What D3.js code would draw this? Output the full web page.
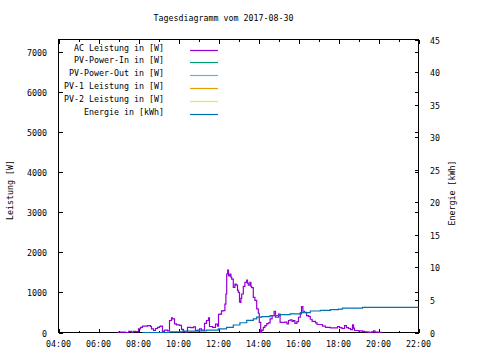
<!DOCTYPE html>
<html>
<head>
<meta charset="utf-8">
<script src="https://cdn.jsdelivr.net/npm/d3@7"></script>
<style>
  html, body { margin: 0; padding: 0; background: #fff; }
  svg { display: block; }
  text { font-family: "DejaVu Sans Mono", "Liberation Mono", monospace; font-size: 8.3px; fill: #000; }
</style>
</head>
<body>
<svg id="chart" width="480" height="360"></svg>
<script>
// ---- data ----
const title = "Tagesdiagramm vom 2017-08-30";
const yLabel = "Leistung [W]";
const y2Label = "Energie [kWh]";

const seriesNames = ["AC Leistung in [W]", "PV-Power-In in [W]", "PV-Power-Out in [W]",
                     "PV-1 Leistung in [W]", "PV-2 Leistung in [W]", "Energie in [kWh]"];
const seriesColors = ["#9400d3", "#009e73", "#56b4e9", "#e69f00", "#f0e442", "#0072b2"];

const xTickLabels = ["04:00", "06:00", "08:00", "10:00", "12:00", "14:00", "16:00", "18:00", "20:00", "22:00"];
const yTickValues = [0, 1000, 2000, 3000, 4000, 5000, 6000, 7000];
const y2TickValues = [0, 5, 10, 15, 20, 25, 30, 35, 40, 45];

// AC Leistung: time (decimal hours) and watts
const acHours = [6.95, 7.0, 7.2, 7.35, 7.5, 7.65, 7.75, 7.85, 8.0, 8.1, 8.2, 8.45, 8.6, 8.65, 8.75, 8.85, 8.95, 9.05, 9.1, 9.2,
  9.3, 9.45, 9.55, 9.65, 9.7, 9.8, 9.9, 10.05, 10.15, 10.25, 10.35, 10.45, 10.6, 10.75, 10.85, 10.95, 11.05, 11.15, 11.3, 11.4,
  11.5, 11.55, 11.7, 11.85, 11.95, 12.0, 12.07, 12.15, 12.24, 12.32, 12.37, 12.41, 12.46, 12.5, 12.52, 12.57, 12.62, 12.66, 12.74, 12.82,
  12.88, 12.95, 12.99, 13.05, 13.07, 13.12, 13.16, 13.24, 13.32, 13.41, 13.45, 13.49, 13.57, 13.62, 13.66, 13.74, 13.82, 13.91, 13.99, 14.04,
  14.11, 14.16, 14.24, 14.32, 14.41, 14.5, 14.58, 14.68, 14.78, 14.85, 14.92, 15.0, 15.08, 15.2, 15.3, 15.42, 15.5, 15.58, 15.68, 15.75,
  15.82, 15.92, 16.0, 16.09, 16.15, 16.22, 16.3, 16.4, 16.5, 16.59, 16.68, 16.76, 16.85, 16.93, 17.09, 17.2, 17.35, 17.5, 17.6, 17.85,
  17.95, 18.05, 18.15, 18.2, 18.3, 18.4, 18.5, 18.6, 18.7, 18.75, 18.8, 19.0, 19.2, 19.3, 19.45, 19.55, 19.65, 19.75, 19.82, 19.9,
  20.0, 20.15];
const acWatts = [0, 10, 10, 0, 30, 10, 30, 20, 90, 130, 160, 170, 150, 90, 50, 100, 130, 150, 160, 30,
  60, 40, 300, 365, 340, 215, 190, 180, 80, 20, 10, 130, 120, 140, 50, 60, 90, 60, 230, 300,
  365, 150, 130, 210, 160, 450, 460, 540, 545, 710, 960, 1460, 1555, 1420, 1415, 1460, 1380, 1330, 1125, 1210,
  1180, 1050, 1000, 780, 750, 850, 960, 1150, 1250, 1310, 1230, 1180, 1250, 1150, 1120, 875, 800, 590, 480, 255,
  5, 60, 130, 170, 220, 240, 340, 420, 530, 380, 380, 460, 255, 250, 260, 215, 300, 315, 280, 300,
  230, 270, 380, 465, 645, 530, 500, 420, 400, 330, 280, 280, 240, 200, 200, 160, 130, 130, 115, 115,
  150, 120, 110, 100, 170, 120, 100, 70, 190, 110, 50, 40, 30, 15, 10, 5, 15, 40, 10, 10,
  5, 0];

// PV series without plotted data
const pvInHours = [], pvInWatts = [];
const pvOutHours = [], pvOutWatts = [];
const pv1Hours = [], pv1Watts = [];
const pv2Hours = [], pv2Watts = [];

// Energie in kWh
const energyHours = [8.2, 9.5, 9.55, 10.15, 10.2, 11.0, 11.4, 11.99, 12.4, 12.74, 13.07, 13.41, 13.74, 13.91, 14.16, 14.58,
  15.08, 15.58, 16.09, 16.59, 17.09, 17.59, 18.0, 18.2, 19.2, 22.0];
const energyKWh = [0, 0, 0.1, 0.1, 0.2, 0.25, 0.35, 0.55, 0.8, 1.15, 1.5, 1.85, 2.1, 2.35, 2.45, 2.6,
  2.75, 2.85, 3.05, 3.3, 3.4, 3.5, 3.6, 3.75, 3.85, 3.85];

// ---- drawing ----
const svg = d3.select("#chart");
const L = 58.5, R = 418.5, T = 39.5, B = 332.5;

const x = d3.scaleLinear().domain([4, 22]).range([L, R]);
const y = d3.scaleLinear().domain([0, 7310]).range([B, T]);
const y2 = d3.scaleLinear().domain([0, 45]).range([B, T]);

// title
svg.append("text").attr("x", 223.5).attr("y", 20.5).attr("text-anchor", "middle").text(title);

// border
svg.append("rect").attr("x", L).attr("y", T).attr("width", R - L).attr("height", B - T)
  .attr("fill", "none").attr("stroke", "#000").attr("stroke-width", 1);

const g = svg.append("g").attr("shape-rendering", "crispEdges");
const hourTicks = d3.range(4, 23, 1);
// x ticks (bottom and top mirrored)
hourTicks.forEach(h => {
  const len = (h % 2 === 0) ? 4 : 2;
  const px = Math.round(x(h)) + 0.5;
  g.append("line").attr("x1", px).attr("x2", px).attr("y1", B).attr("y2", B - len).attr("stroke", "#000");
  g.append("line").attr("x1", px).attr("x2", px).attr("y1", T).attr("y2", T + len).attr("stroke", "#000");
});
// x labels
xTickLabels.forEach((lab, i) => {
  svg.append("text").attr("x", x(4 + 2 * i)).attr("y", 347).attr("text-anchor", "middle").text(lab);
});
// left y ticks (mirrored on right)
yTickValues.forEach(v => {
  const py = Math.round(y(v)) + 0.5;
  g.append("line").attr("x1", L).attr("x2", L + 4).attr("y1", py).attr("y2", py).attr("stroke", "#000");
  g.append("line").attr("x1", R).attr("x2", R - 4).attr("y1", py).attr("y2", py).attr("stroke", "#000");
  svg.append("text").attr("x", 47).attr("y", py + 3).attr("text-anchor", "end").text(v);
});
// right y2 ticks
y2TickValues.forEach(v => {
  const py = Math.round(y2(v)) + 0.5;
  g.append("line").attr("x1", R).attr("x2", R - 4).attr("y1", py).attr("y2", py).attr("stroke", "#000");
  svg.append("text").attr("x", 430).attr("y", py + 3).attr("text-anchor", "start").text(v);
});

// axis labels
svg.append("text").attr("transform", "translate(13,190) rotate(-90)").attr("text-anchor", "middle").text(yLabel);
svg.append("text").attr("transform", "translate(455,193) rotate(-90)").attr("text-anchor", "middle").text(y2Label);

// series
const lineW = d3.line().x(d => x(d[0])).y(d => y(d[1])).curve(d3.curveStepAfter);
const lineE = d3.line().x(d => x(d[0])).y(d => y2(d[1])).curve(d3.curveStepAfter);
const zip = (a, b) => a.map((v, i) => [v, b[i]]);

const series = [
  { pts: zip(acHours, acWatts), gen: lineW },
  { pts: zip(pvInHours, pvInWatts), gen: lineW },
  { pts: zip(pvOutHours, pvOutWatts), gen: lineW },
  { pts: zip(pv1Hours, pv1Watts), gen: lineW },
  { pts: zip(pv2Hours, pv2Watts), gen: lineW },
  { pts: zip(energyHours, energyKWh), gen: lineE }
];
series.forEach((s, i) => {
  if (s.pts.length === 0) return;
  svg.append("path").attr("d", s.gen(s.pts)).attr("fill", "none")
    .attr("stroke", seriesColors[i]).attr("stroke-width", 1.2);
});

// legend
seriesNames.forEach((name, i) => {
  const ly = 49.5 + 12.9 * i;
  svg.append("text").attr("x", 164).attr("y", ly + 1).attr("text-anchor", "end").text(name);
  svg.append("line").attr("x1", 190).attr("x2", 218).attr("y1", Math.round(ly) + 0.5).attr("y2", Math.round(ly) + 0.5)
    .attr("stroke", seriesColors[i]).attr("stroke-width", 1.2);
});
</script>
</body>
</html>
